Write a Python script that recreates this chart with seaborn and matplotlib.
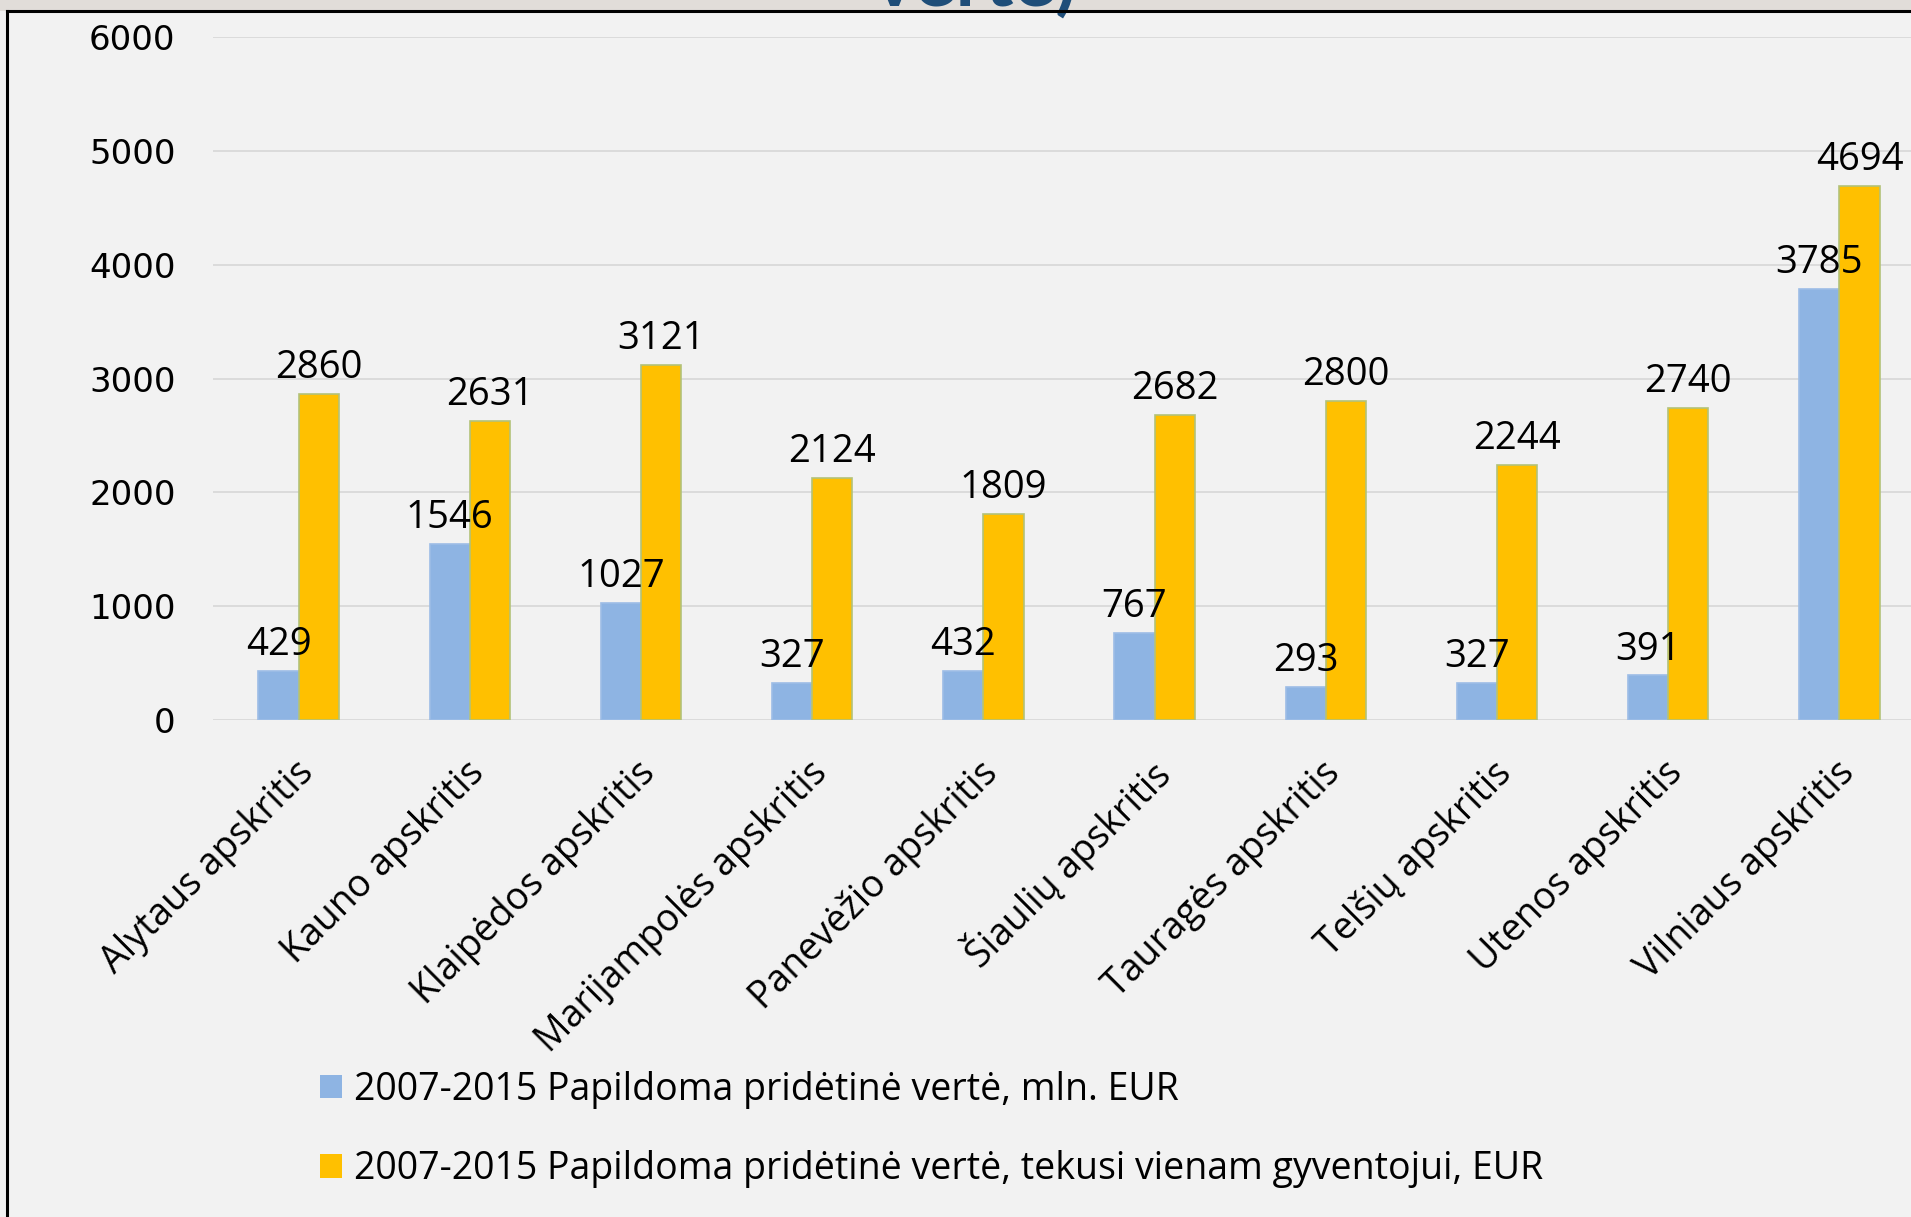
import pandas as pd
import seaborn as sns
import matplotlib.pyplot as plt
from matplotlib.patches import Rectangle
from matplotlib.lines import Line2D
from matplotlib.transforms import ScaledTranslation

# Chart data
regions = ['Alytaus apskritis', 'Kauno apskritis', 'Klaipėdos apskritis',
           'Marijampolės apskritis', 'Panevėžio apskritis', 'Šiaulių apskritis',
           'Tauragės apskritis', 'Telšių apskritis', 'Utenos apskritis',
           'Vilniaus apskritis']
added_value_mln = [429, 1546, 1027, 327, 432, 767, 293, 327, 391, 3785]
added_value_per_capita = [2860, 2631, 3121, 2124, 1809, 2682, 2800, 2244, 2740, 4694]
series_names = ['2007-2015 Papildoma pridėtinė vertė, mln. EUR',
                '2007-2015 Papildoma pridėtinė vertė, tekusi vienam gyventojui, EUR']
y_ticks = [0, 1000, 2000, 3000, 4000, 5000, 6000]

df = pd.DataFrame({
    'apskritis': regions * 2,
    'serija': [series_names[0]] * len(regions) + [series_names[1]] * len(regions),
    'reiksme': added_value_mln + added_value_per_capita,
})

W, H = 1911, 1217
fig = plt.figure(figsize=(W / 100, H / 100), dpi=100, facecolor='#f2f2f2')

# axes: left edge at x=213px, zero line at y=720px, 6000 at y=37px; cut on the right
ax = fig.add_axes([213 / W, 1 - 720 / H, (1925 - 213) / W, (720 - 37) / H])
ax.set_facecolor('#f2f2f2')

sns.barplot(data=df, x='apskritis', y='reiksme', hue='serija', hue_order=series_names,
            palette=['#8eb4e3', '#ffc000'], width=0.47, saturation=1, ax=ax)

handles, labels = ax.get_legend_handles_labels()
ax.get_legend().remove()

for c, ec in zip(ax.containers, ['#9dbde6', '#b3c279']):
    for bar in c:
        bar.set_edgecolor(ec)
        bar.set_linewidth(1.2)
    ax.bar_label(c, fmt='%d', padding=5, fontsize=27.5, family='Open Sans', color='black')

ax.set_xlim(-0.5, 9.5)
ax.set_ylim(0, 6000)
ax.set_yticks(y_ticks)
ax.set_yticklabels([str(t) for t in y_ticks], fontsize=24.5, family='DejaVu Sans')
ax.tick_params(axis='y', length=0, pad=27)
ax.tick_params(axis='x', length=0, pad=34)
ax.set_xticks(range(len(regions)))
ax.set_xticklabels(regions, rotation=45, ha='right', va='center',
                   rotation_mode='anchor', fontsize=27, family='Open Sans')
shift = ScaledTranslation(9 / 100, 0, fig.dpi_scale_trans)
for lab in ax.get_xticklabels():
    lab.set_transform(lab.get_transform() + shift)
ax.set_xlabel('')
ax.set_ylabel('')
ax.yaxis.grid(True, color='#d9d9d9', lw=1.3)
ax.set_axisbelow(True)
for s in ax.spines.values():
    s.set_visible(False)

leg = fig.legend(handles, labels, loc='upper left', bbox_to_anchor=(320 / W, 1 - 1071 / H),
                 frameon=False, prop={'family': 'Open Sans', 'size': 27},
                 handlelength=0.58, handleheight=0.58, handletextpad=0.33,
                 labelspacing=1.1, borderpad=0, borderaxespad=0)

# top strip of the slide with the cut-off title and the frame lines
fig.patches.append(Rectangle((0, 1 - 11 / H), 1, 11 / H, transform=fig.transFigure,
                             facecolor='#e1ddd9', edgecolor='none', zorder=5))
fig.text(975 / W, 1 - 7 / H, 'vertė)', ha='center', va='baseline', fontsize=56,
         fontweight='bold', family='Lato', color='#1f4e79', zorder=6)
fig.lines.append(Line2D([7 / W, 1], [1 - 11 / H, 1 - 11 / H], transform=fig.transFigure,
                        color='black', lw=2.2, zorder=7))
fig.lines.append(Line2D([7 / W, 7 / W], [0, 1 - 11 / H], transform=fig.transFigure,
                        color='black', lw=2.2, zorder=7))

fig.savefig('out.png', dpi=100, facecolor=fig.get_facecolor())
